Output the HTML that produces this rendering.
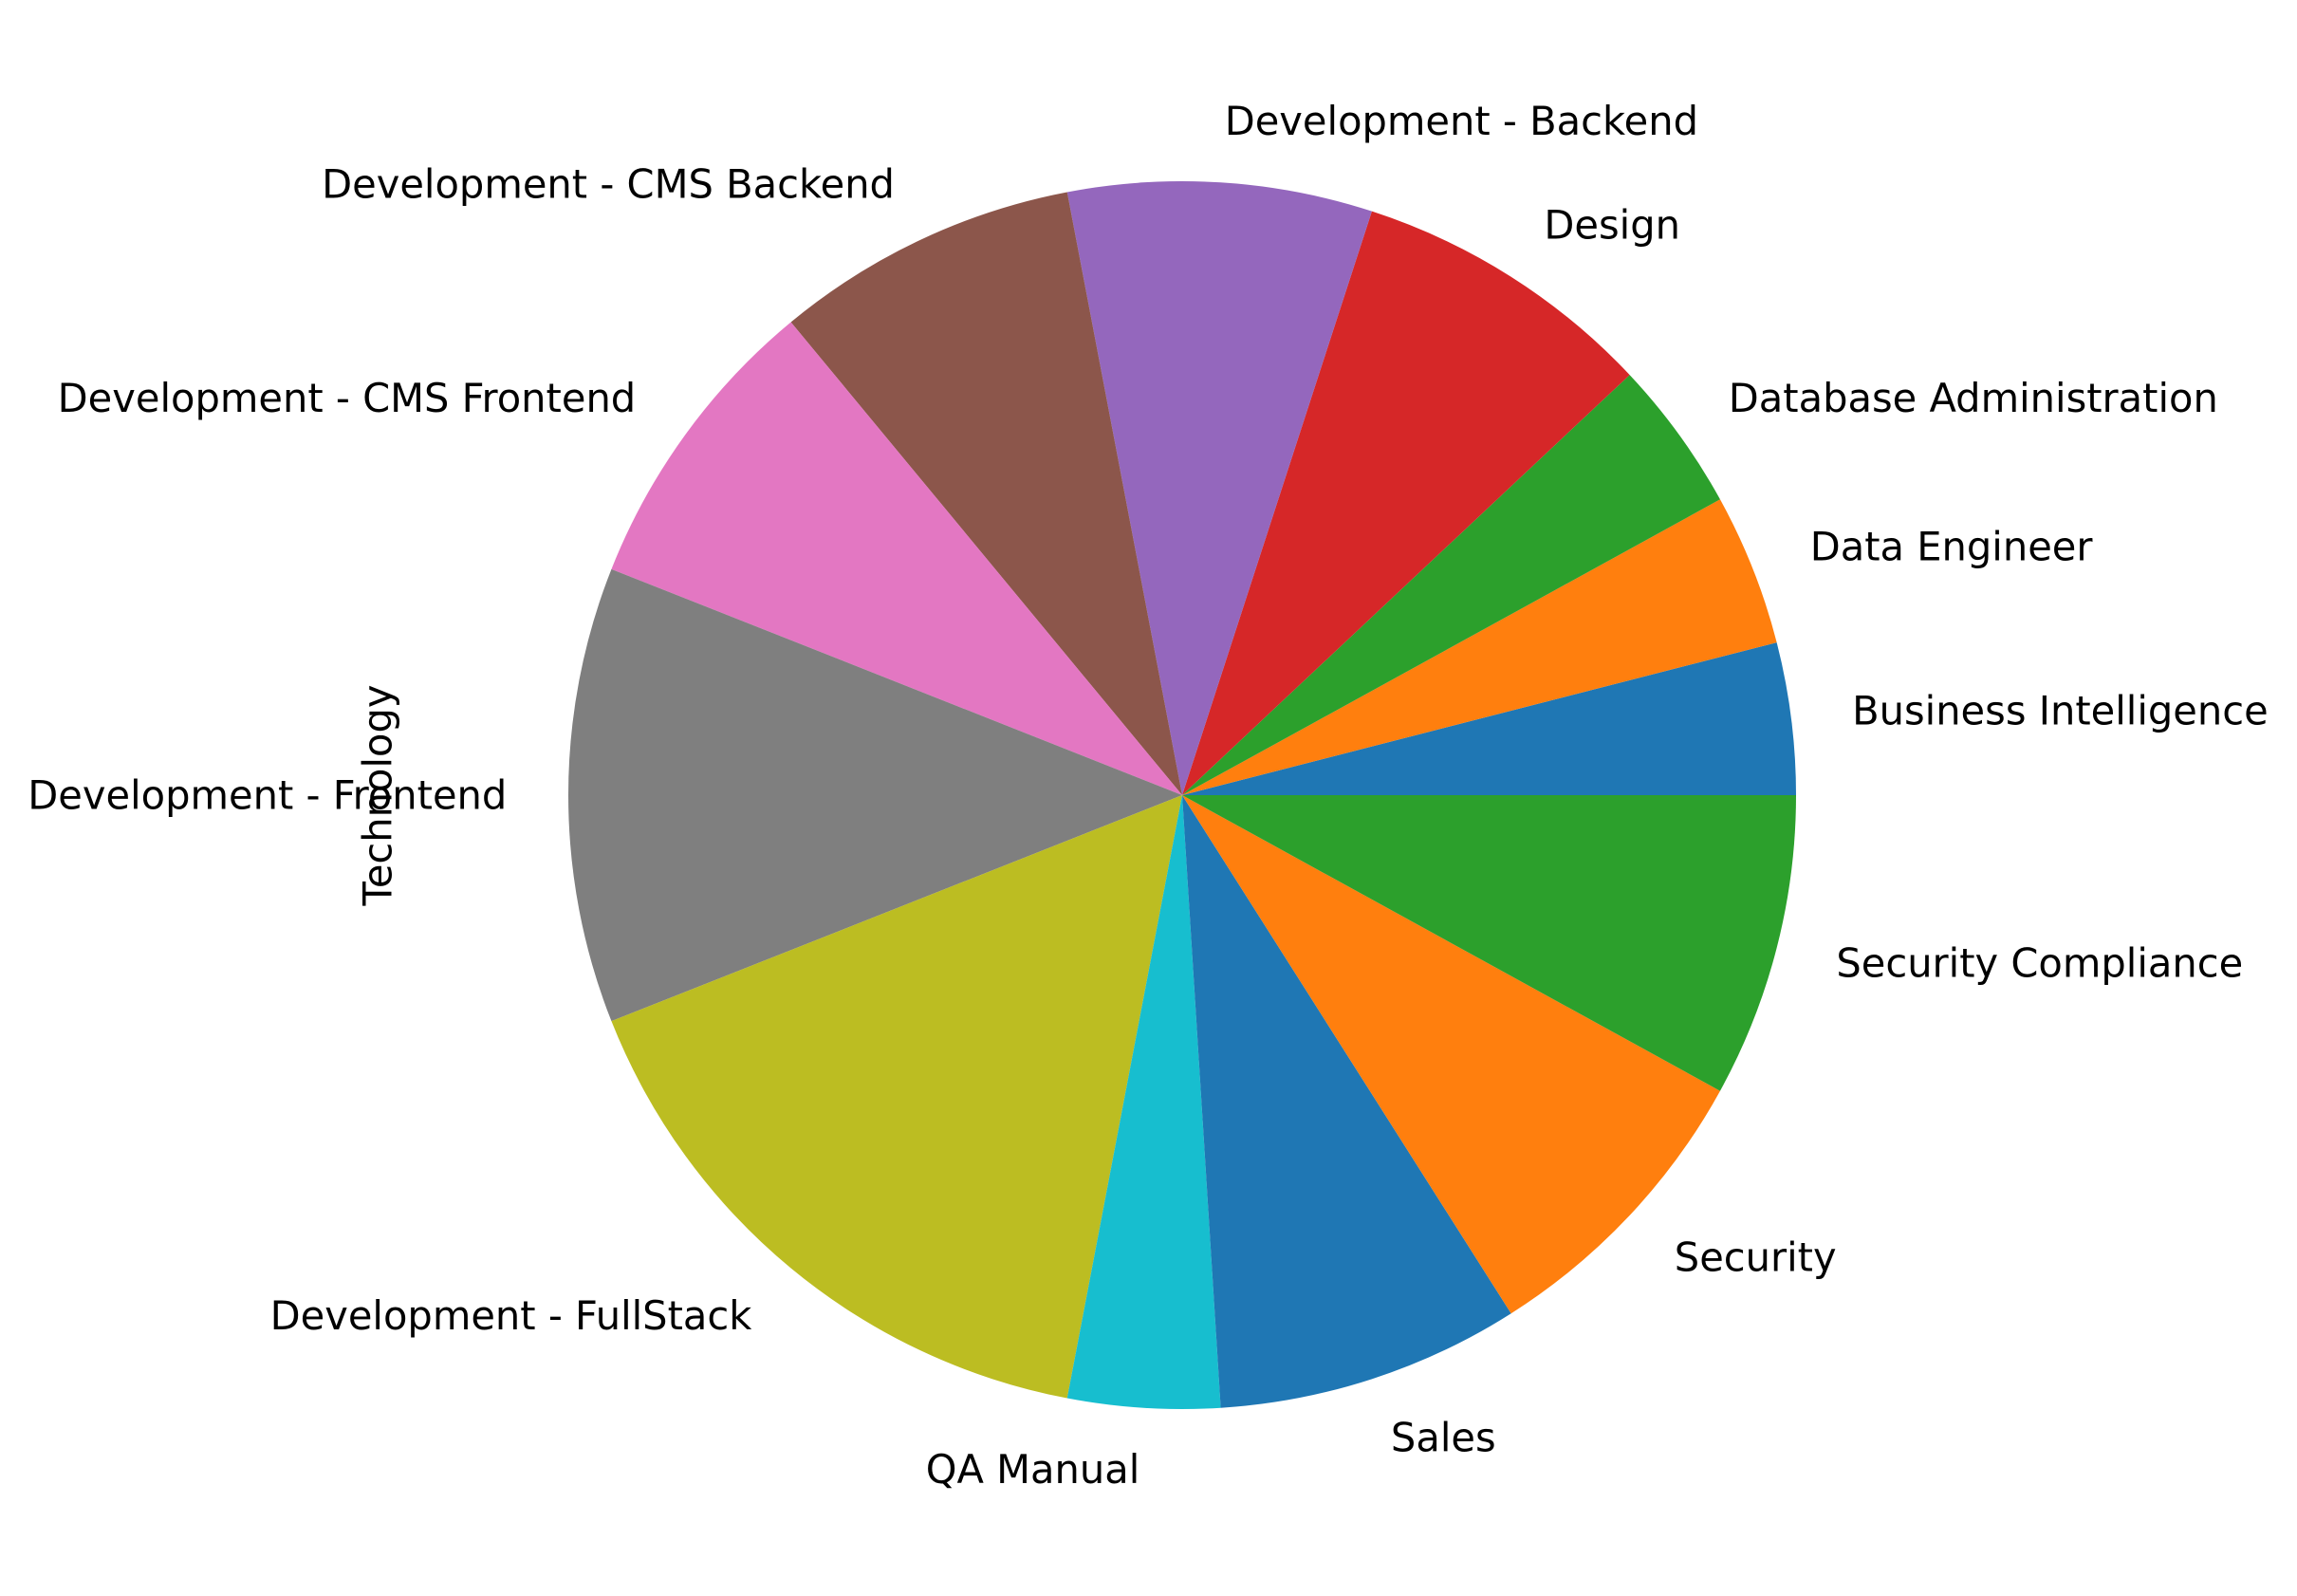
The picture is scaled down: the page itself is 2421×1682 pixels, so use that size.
<!DOCTYPE html>
<html><head><meta charset="utf-8"><style>
html,body{margin:0;padding:0;background:#fff;}
svg text{font-family:"DejaVu Sans","Liberation Sans",sans-serif;font-size:41.6px;fill:#000;}
</style></head><body>
<svg id="chart" width="2421" height="1677" viewBox="0 0 2421 1677" xmlns="http://www.w3.org/2000/svg">
<text transform="translate(398,838) rotate(-90)" text-anchor="middle" dominant-baseline="central">Technology</text>
</svg>
<script>
const categories = ["Business Intelligence","Data Engineer","Database Administration","Design","Development - Backend","Development - CMS Backend","Development - CMS Frontend","Development - Frontend","Development - FullStack","QA Manual","Sales","Security","Security Compliance"];
const counts = [1,1,1,2,2,2,2,3,4,1,2,2,2];
const colors = ["#1f77b4","#ff7f0e","#2ca02c","#d62728","#9467bd","#8c564b","#e377c2","#7f7f7f","#bcbd22","#17becf"];
const svg = document.getElementById('chart');
const NS = 'http://www.w3.org/2000/svg';
const cx = 1246, cy = 838, R = 647;
const total = counts.reduce((a,b)=>a+b,0);
let start = 0;
function pt(a, r){ return [cx + r*Math.cos(a), cy - r*Math.sin(a)]; }
counts.forEach((v,i)=>{
  const sweep = v/total*2*Math.PI;
  const a0 = start, a1 = start + sweep;
  const p0 = pt(a0,R), p1 = pt(a1,R);
  const path = document.createElementNS(NS,'path');
  path.setAttribute('d',`M${cx},${cy} L${p0[0]},${p0[1]} A${R},${R} 0 ${sweep>Math.PI?1:0} 0 ${p1[0]},${p1[1]} Z`);
  path.setAttribute('fill',colors[i%colors.length]);
  
  
  svg.appendChild(path);
  const mid = (a0+a1)/2;
  const lp = pt(mid, R*1.1);
  const t = document.createElementNS(NS,'text');
  t.setAttribute('x',lp[0]); t.setAttribute('y',lp[1]);
  t.setAttribute('text-anchor', Math.cos(mid)>0 ? 'start' : 'end');
  t.setAttribute('dominant-baseline','central');
  
  
  t.textContent = categories[i];
  svg.appendChild(t);
  start = a1;
});
</script>
</body></html>
